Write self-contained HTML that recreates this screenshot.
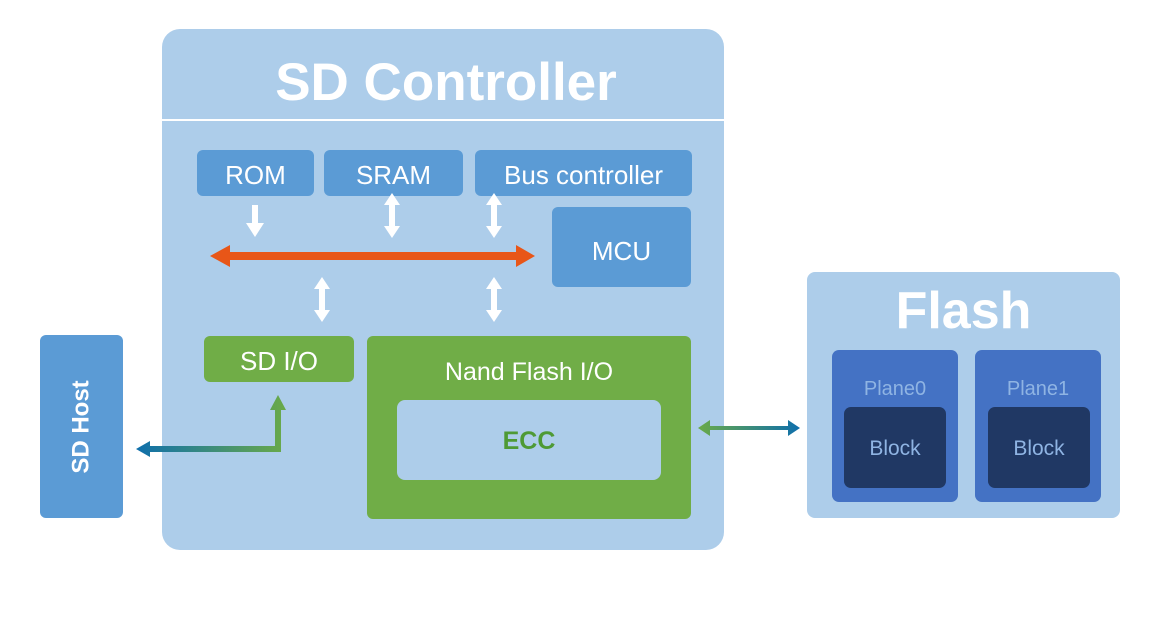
<!DOCTYPE html>
<html><head><meta charset="utf-8"><style>
body{margin:0;width:1157px;height:618px;background:#fff;position:relative;overflow:hidden;font-family:"Liberation Sans",sans-serif}
.b{position:absolute;display:flex;align-items:center;justify-content:center;color:#fff;box-sizing:border-box}
.t{padding-top:5px;font-size:26px}
</style></head><body>
<div class="b" style="left:162px;top:29px;width:562px;height:521px;background:#adcdea;border-radius:18px"></div>
<div style="position:absolute;left:162px;top:119px;width:562px;height:2px;background:#fff"></div>
<div class="b" style="left:162px;top:50px;width:568px;height:64px;font-size:53px;font-weight:bold">SD Controller</div>
<div class="b t" style="left:197px;top:150px;width:117px;height:46px;background:#5b9bd5;border-radius:6px">ROM</div>
<div class="b t" style="left:324px;top:150px;width:139px;height:46px;background:#5b9bd5;border-radius:6px">SRAM</div>
<div class="b t" style="left:475px;top:150px;width:217px;height:46px;background:#5b9bd5;border-radius:6px">Bus controller</div>
<div class="b t" style="left:552px;top:207px;width:139px;height:80px;background:#5b9bd5;border-radius:6px;padding-top:8px">MCU</div>
<div class="b t" style="left:204px;top:336px;width:150px;height:46px;background:#70ad47;border-radius:6px">SD I/O</div>
<div class="b" style="left:367px;top:336px;width:324px;height:183px;background:#70ad47;border-radius:6px;align-items:flex-start;padding-top:22px;font-size:25px">Nand Flash I/O</div>
<div class="b" style="left:397px;top:400px;width:264px;height:80px;background:#adcdea;border-radius:8px;font-size:25px;font-weight:bold;color:#4e9a35;padding-top:2px">ECC</div>
<div class="b" style="left:40px;top:335px;width:83px;height:183px;background:#5b9bd5;border-radius:6px"><div style="transform:rotate(-90deg);font-size:24px;font-weight:bold;white-space:nowrap">SD Host</div></div>
<div class="b" style="left:807px;top:272px;width:313px;height:246px;background:#adcdea;border-radius:8px;align-items:flex-start;padding-top:9px;font-size:52px;font-weight:bold">Flash</div>
<div class="b" style="left:832px;top:350px;width:126px;height:152px;background:#4472c4;border-radius:7px;align-items:flex-start;padding-top:28px;font-size:20px;color:#8fb4e3">Plane0</div>
<div class="b" style="left:844px;top:407px;width:102px;height:81px;background:#203864;border-radius:7px;font-size:21px;color:#8fb4e3;padding-top:2px">Block</div>
<div class="b" style="left:975px;top:350px;width:126px;height:152px;background:#4472c4;border-radius:7px;align-items:flex-start;padding-top:28px;font-size:20px;color:#8fb4e3">Plane1</div>
<div class="b" style="left:988px;top:407px;width:102px;height:81px;background:#203864;border-radius:7px;font-size:21px;color:#8fb4e3;padding-top:2px">Block</div>
<svg width="1157" height="618" style="position:absolute;left:0;top:0">
<defs>
<linearGradient id="g1" x1="0" x2="1"><stop offset="0" stop-color="#0f6fac"/><stop offset="1" stop-color="#6aaa48"/></linearGradient>
<linearGradient id="g2" x1="0" x2="1"><stop offset="0" stop-color="#6aaa48"/><stop offset="1" stop-color="#0f6fac"/></linearGradient>
</defs>
<polygon points="210,256 230,245 230,252 516,252 516,245 535,256 516,267 516,260 230,260 230,267" fill="#e85618"/>
<g fill="#fff">
<polygon points="252,205 258,205 258,223 264,223 255,237 246,223 252,223"/>
<polygon points="392,193 400,205 395,205 395,226 400,226 392,238 384,226 389,226 389,205 384,205"/>
<polygon points="494,193 502,205 497,205 497,226 502,226 494,238 486,226 491,226 491,205 486,205"/>
<polygon points="322,277 330,289 325,289 325,310 330,310 322,322 314,310 319,310 319,289 314,289"/>
<polygon points="494,277 502,289 497,289 497,310 502,310 494,322 486,310 491,310 491,289 486,289"/>
</g>
<polygon points="136,449 150,441 150,446 275,446 275,410 270,410 278,395 286,410 281,410 281,452 150,452 150,457" fill="url(#g1)"/>
<polygon points="698,428 710,420 710,426 788,426 788,420 800,428 788,436 788,430 710,430 710,436" fill="url(#g2)"/>
</svg>
</body></html>
